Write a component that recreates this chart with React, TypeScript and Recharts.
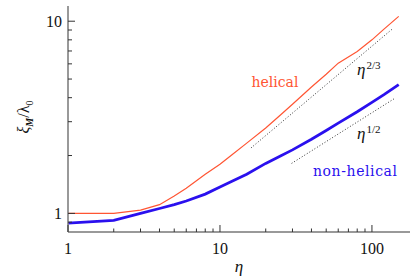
import { LineChart, Line, XAxis, YAxis, ReferenceDot } from "recharts";

// eta samples and the two correlation-length curves
const etaSteps = [1, 2, 3, 4, 5, 6, 8, 10, 12, 15, 20, 25, 30, 40, 50, 60, 80, 100, 120, 150];
const helical = [1.0, 1.0, 1.04, 1.11, 1.23, 1.35, 1.6, 1.8, 2.02, 2.32, 2.78, 3.25, 3.7, 4.55, 5.3, 6.05, 6.95, 8.0, 9.1, 10.6];
const nonHelical = [0.89, 0.92, 1.0, 1.06, 1.11, 1.16, 1.26, 1.37, 1.47, 1.6, 1.82, 1.99, 2.14, 2.43, 2.7, 2.95, 3.38, 3.78, 4.15, 4.68];

// dotted power-law guides (end points)
const guide23Eta = [16, 136];
const guide23Xi = [2.19, 9.1];
const guide12Eta = [29.6, 140];
const guide12Xi = [1.82, 3.95];

const xTicks = [1, 2, 3, 4, 5, 6, 7, 8, 9, 10, 20, 30, 40, 50, 60, 70, 80, 90, 100];
const xLabels = [1, 10, 100];
const yTicks = [0.9, 1, 2, 3, 4, 5, 6, 7, 8, 9, 10];
const yLabels = [1, 10];

const RED = "#ff5533";
const BLUE = "#2a10ee";
const TICK = "#333";
const FRAME = "#777";
const NUM_FONT = "'Liberation Serif', serif";
const TXT_FONT = "'DejaVu Serif', serif";

const annotations = [
  { text: "helical", eta: 23, xi: 4.84, color: RED },
  { text: "non-helical", eta: 77.7, xi: 1.67, color: BLUE },
];
const powerLabels = [
  { exp: "2/3", eta: 79.7, xi: 5.26 },
  { exp: "1/2", eta: 79.7, xi: 2.45 },
];

const helicalData = etaSteps.map((eta, i) => ({ eta, xi: helical[i] }));
const nonHelicalData = etaSteps.map((eta, i) => ({ eta, xi: nonHelical[i] }));
const guide23 = guide23Eta.map((eta, i) => ({ eta, xi: guide23Xi[i] }));
const guide12 = guide12Eta.map((eta, i) => ({ eta, xi: guide12Xi[i] }));

const BottomTick = (props: any) => {
  const { x, y, payload } = props;
  const major = xLabels.includes(payload.value);
  return (
    <g>
      <path d={`M${x},${y}V${y - (major ? 7 : 3.5)}`} stroke={TICK} strokeWidth={1} fill="none" />
      {major && (
        <text x={x} y={y + 22} textAnchor="middle" fontFamily={NUM_FONT} fontSize={16} fill="#111">
          {payload.value}
        </text>
      )}
    </g>
  );
};

const TopTick = (props: any) => {
  const { x, y, payload } = props;
  const major = xLabels.includes(payload.value);
  return <path d={`M${x},${y}V${y + (major ? 7 : 3.5)}`} stroke={TICK} strokeWidth={1} fill="none" />;
};

const LeftTick = (props: any) => {
  const { x, y, payload } = props;
  const major = yLabels.includes(payload.value);
  return (
    <g>
      <path d={`M${x},${y}H${x + (major ? 7 : 4)}`} stroke={TICK} strokeWidth={1} fill="none" />
      {major && (
        <text x={x - 6} y={y + 5.5} textAnchor="end" fontFamily={NUM_FONT} fontSize={16} fill="#111">
          {payload.value}
        </text>
      )}
    </g>
  );
};

const RightTick = (props: any) => {
  const { x, y, payload } = props;
  const major = yLabels.includes(payload.value);
  return <path d={`M${x},${y}H${x - (major ? 7 : 4)}`} stroke={TICK} strokeWidth={1} fill="none" />;
};

export default function App() {
  return (
    <div style={{ position: "absolute", left: 0, top: 0 }}>
      <LineChart width={415} height={277} margin={{ top: 6, right: 5, bottom: 0, left: 8 }}>
        <XAxis
          dataKey="eta"
          type="number"
          scale="log"
          domain={[1, 178]}
          allowDataOverflow
          ticks={xTicks}
          interval={0}
          tickSize={0}
          tickMargin={0}
          tickLine={false}
          tick={BottomTick}
          height={45}
          axisLine={{ stroke: FRAME, strokeWidth: 1.5 }}
          label={{
            content: (p: any) => (
              <text
                x={p.viewBox.x + p.viewBox.width / 2}
                y={p.viewBox.y + 40}
                textAnchor="middle"
                fontFamily={NUM_FONT}
                fontStyle="italic"
                fontSize={17}
                fill="#111"
              >
                η
              </text>
            ),
          }}
        />
        <XAxis
          xAxisId="top"
          dataKey="eta"
          type="number"
          scale="log"
          orientation="top"
          domain={[1, 178]}
          allowDataOverflow
          ticks={xTicks}
          interval={0}
          tickSize={0}
          tickMargin={0}
          tickLine={false}
          tick={TopTick}
          height={0}
          axisLine={{ stroke: "#222", strokeWidth: 1 }}
        />
        <YAxis
          type="number"
          scale="log"
          domain={[0.8, 12]}
          allowDataOverflow
          ticks={yTicks}
          interval={0}
          tickSize={0}
          tickMargin={0}
          tickLine={false}
          tick={LeftTick}
          width={60}
          axisLine={{ stroke: FRAME, strokeWidth: 1.5 }}
          label={{
            content: (p: any) => {
              const cx = p.viewBox.x + 21;
              const cy = p.viewBox.y + p.viewBox.height / 2 - 2;
              return (
                <text
                  x={cx}
                  y={cy}
                  transform={`rotate(-90, ${cx}, ${cy})`}
                  textAnchor="middle"
                  fontFamily={NUM_FONT}
                  fontSize={16}
                  fill="#111"
                >
                  <tspan fontStyle="italic">ξ</tspan>
                  <tspan fontSize={10} fontWeight="bold" fontStyle="italic" dy={4}>M</tspan>
                  <tspan dy={-4}>/λ</tspan>
                  <tspan fontSize={10} dy={4}>0</tspan>
                </text>
              );
            },
          }}
        />
        <YAxis
          yAxisId="right"
          type="number"
          scale="log"
          orientation="right"
          domain={[0.8, 12]}
          allowDataOverflow
          ticks={yTicks}
          interval={0}
          tickSize={0}
          tickMargin={0}
          tickLine={false}
          tick={RightTick}
          width={0}
          axisLine={{ stroke: FRAME, strokeWidth: 1.5 }}
        />
        <Line data={guide23} dataKey="xi" stroke="#333" strokeWidth={1} strokeDasharray="1 2" dot={false} isAnimationActive={false} />
        <Line data={guide12} dataKey="xi" stroke="#333" strokeWidth={1} strokeDasharray="1 2" dot={false} isAnimationActive={false} />
        <Line data={helicalData} dataKey="xi" stroke={RED} strokeWidth={1.2} dot={false} isAnimationActive={false} />
        <Line data={nonHelicalData} dataKey="xi" stroke={BLUE} strokeWidth={2.8} dot={false} isAnimationActive={false} />
        {annotations.map((a) => (
          <ReferenceDot
            key={a.text}
            x={a.eta}
            y={a.xi}
            r={0}
            shape={(p: any) => (
              <text
                x={p.cx}
                y={p.cy + 5}
                textAnchor="middle"
                fontFamily={TXT_FONT}
                fontSize={14}
                letterSpacing={a.text.length > 8 ? 0.6 : 0}
                fill={a.color}
              >
                {a.text}
              </text>
            )}
          />
        ))}
        {powerLabels.map((a) => (
          <ReferenceDot
            key={a.exp}
            x={a.eta}
            y={a.xi}
            r={0}
            shape={(p: any) => (
              <text x={p.cx} y={p.cy} fontFamily={NUM_FONT} fontSize={17} fill="#111">
                <tspan fontStyle="italic">η</tspan>
                <tspan fontSize={11} dy={-6} dx={1}>{a.exp}</tspan>
              </text>
            )}
          />
        ))}
      </LineChart>
    </div>
  );
}
